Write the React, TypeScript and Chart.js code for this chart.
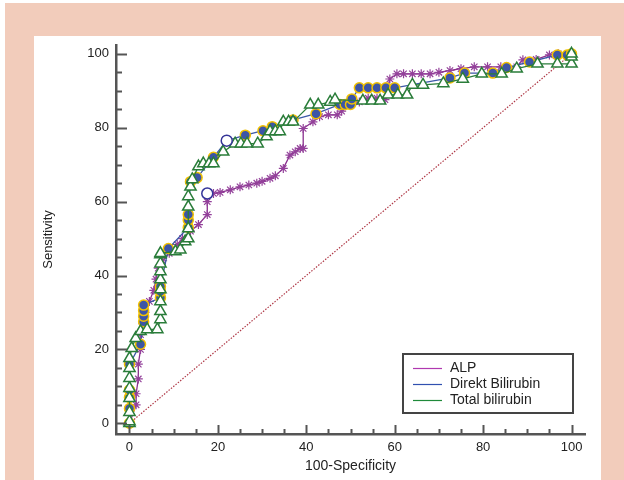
import React, { useEffect, useRef } from "react";
import { Chart, registerables } from "chart.js";

Chart.register(...registerables);

// ---- Data ----
const alpX = [0, 1.5, 1.5, 2, 2, 2.5, 2.5, 3, 3.5, 4.5, 5.5, 6, 6.5, 7.5, 9, 10.8, 12, 13.8, 15.6, 17.6, 17.6, 17.6, 19, 20.5, 22.8, 25, 27, 28.8, 30, 31.8, 33, 34.8, 36.3, 37.5, 38.6, 39.3, 39.3, 41.5, 43, 45, 47, 48, 50, 52, 54, 56, 57.8, 58.9, 60.5, 62, 64, 66, 68, 70, 72.5, 75, 78, 81, 84, 87.6, 89, 92, 95, 97, 100];
const alpY = [0, 5, 8, 12, 16, 20, 24, 27, 30, 33, 36, 39, 42, 44, 46, 48.4, 50, 52, 53.8, 56.5, 60, 62.2, 62.2, 62.5, 63.2, 64, 64.5, 65, 65.5, 66.3, 67, 69, 72.6, 73.5, 74.4, 74.4, 79.8, 81.6, 83, 83.5, 83.5, 84.5, 86, 87, 88, 88, 87.6, 93.2, 94.6, 94.6, 94.6, 94.6, 94.6, 95, 95.5, 96, 96.5, 96.5, 96.5, 96.5, 98.4, 98.5, 99.7, 100, 100];

const dbX = [0, 0, 0, 0, 0, 2.5, 3.2, 3.2, 3.2, 3.2, 7, 7, 7, 8.8, 13.3, 13.3, 13.3, 13.8, 15.3, 19, 22, 26.2, 30.2, 32.3, 37, 42.2, 47.6, 48.8, 50, 50.3, 52, 54, 56, 58, 60, 72.5, 75.8, 82.2, 85.3, 90.5, 96.8, 99, 100];
const dbY = [0, 4, 7, 9, 16, 21.4, 27.5, 29, 30.5, 32, 34, 35.7, 37, 47.3, 53, 55, 56.5, 65.4, 66.5, 72, 76.5, 78, 79.2, 80.3, 82.1, 83.8, 86.3, 86.3, 86.3, 87.8, 90.8, 90.8, 90.8, 90.8, 90.8, 93.5, 94.8, 94.8, 96.3, 97.8, 99.7, 99.7, 100];

const tbX = [0, 0, 0, 0, 0, 0, 0, 0, 0.5, 1.4, 2.5, 4, 6.3, 7, 7, 7, 7, 7, 7, 7, 7, 7, 10.4, 11.5, 12.6, 13.3, 13.3, 13.3, 13.3, 13.8, 14.2, 15.6, 16.7, 18, 19, 21.2, 23.9, 25.2, 26.6, 29, 31, 31.8, 33, 34, 34.8, 36, 37, 40.9, 42.7, 45.4, 46.5, 52.8, 54.8, 56.7, 58.5, 60.7, 62.8, 64, 66.4, 71, 75.4, 79.7, 84.2, 87.6, 92.3, 96.8, 100, 100, 100];
const tbY = [0, 0.5, 3, 6.8, 9.5, 12.2, 14.9, 17.6, 20.3, 23, 24.9, 25.4, 25.4, 28.1, 30.3, 33, 36.2, 38.9, 41.1, 43.2, 45.7, 46, 46.5, 47, 49.2, 50, 52.7, 58.6, 61.4, 64, 66, 69.5, 70.3, 70.3, 70.3, 73.5, 75.7, 75.7, 75.7, 75.7, 77.6, 79, 79, 79, 81.6, 81.6, 81.6, 86.2, 86.2, 87, 87.6, 87.3, 87.3, 87.3, 88.9, 88.9, 88.9, 91.6, 91.6, 92, 93.2, 94.6, 94.6, 96, 97.3, 97.3, 97.3, 99.2, 100];

// optimal criterion points (hollow circles)
const critX = [17.6, 22];
const critY = [62.2, 76.5];

const diagX = [0, 100];
const diagY = [0, 100];

const tickValues = [0, 5, 10, 15, 20, 25, 30, 35, 40, 45, 50, 55, 60, 65, 70, 75, 80, 85, 90, 95, 100];
const labeledTicks = [0, 20, 40, 60, 80, 100];

const legendNames = ["ALP", "Direkt Bilirubin", "Total bilirubin"];
const legendColors = ["#b038b0", "#3050b0", "#1f8a3a"];

const FONT = "'Liberation Sans', Arial, Helvetica, sans-serif";

const zip = (xs: number[], ys: number[]) => xs.map((x, i) => ({ x, y: ys[i] }));

const decorPlugin = {
  id: "decor",
  afterDraw(chart: any) {
    const { ctx, chartArea, scales } = chart;
    ctx.save();
    ctx.strokeStyle = "#555";
    ctx.lineWidth = 2;
    for (const t of scales.x.ticks) {
      const px = Math.round(scales.x.getPixelForValue(t.value)) + 0.5;
      const major = labeledTicks.includes(t.value);
      ctx.beginPath();
      ctx.moveTo(px, chartArea.bottom);
      ctx.lineTo(px, chartArea.bottom - (major ? 9 : 5));
      ctx.stroke();
    }
    for (const t of scales.y.ticks) {
      const py = Math.round(scales.y.getPixelForValue(t.value)) + 0.5;
      const major = labeledTicks.includes(t.value);
      ctx.beginPath();
      ctx.moveTo(chartArea.left, py);
      ctx.lineTo(chartArea.left + (major ? 11 : 6), py);
      ctx.stroke();
    }
    // legend box
    const bx = 403, by = 354, bw = 170, bh = 59;
    ctx.fillStyle = "#fff";
    ctx.fillRect(bx, by, bw, bh);
    ctx.strokeStyle = "#444";
    ctx.lineWidth = 2;
    ctx.strokeRect(bx, by, bw, bh);
    ctx.font = `14px ${FONT}`;
    ctx.textBaseline = "middle";
    ctx.textAlign = "left";
    legendNames.forEach((name, i) => {
      const y = by + 14 + i * 16;
      ctx.strokeStyle = legendColors[i];
      ctx.lineWidth = 1.2;
      ctx.beginPath();
      ctx.moveTo(413, y + 0.5);
      ctx.lineTo(442, y + 0.5);
      ctx.stroke();
      ctx.fillStyle = "#222";
      ctx.fillText(name, 450, y);
    });
    ctx.restore();
  },
};

export default function App() {
  const canvasRef = useRef<HTMLCanvasElement | null>(null);

  useEffect(() => {
    const canvas = canvasRef.current;
    if (!canvas) return;
    const chart = new Chart(canvas, {
      type: "scatter",
      data: {
        datasets: [
          {
            label: "diag",
            data: zip(diagX, diagY),
            showLine: true,
            borderColor: "#b03a48",
            borderWidth: 1.2,
            borderDash: [1.5, 1.5],
            pointRadius: 0,
            order: 5,
          },
          {
            label: "ALP",
            data: zip(alpX, alpY),
            showLine: true,
            borderColor: "#8a2f8e",
            borderWidth: 1.3,
            pointStyle: "star",
            pointRadius: 4.5,
            pointBorderColor: "#93409a",
            pointBorderWidth: 1.2,
            order: 4,
          },
          {
            label: "Direkt Bilirubin",
            data: zip(dbX, dbY),
            showLine: true,
            borderColor: "#3c58a8",
            borderWidth: 1.3,
            pointStyle: "circle",
            pointRadius: 5,
            pointBackgroundColor: "#3d55a6",
            pointBorderColor: "#f2c200",
            pointBorderWidth: 1.5,
            order: 3,
          },
          {
            label: "Total bilirubin",
            data: zip(tbX, tbY),
            showLine: true,
            borderColor: "#2a7d3a",
            borderWidth: 1.3,
            pointStyle: "triangle",
            pointRadius: 6.5,
            pointBackgroundColor: "#ffffff",
            pointBorderColor: "#2a7d3a",
            pointBorderWidth: 1.5,
            order: 2,
          },
          {
            label: "crit",
            data: zip(critX, critY),
            showLine: false,
            pointStyle: "circle",
            pointRadius: 5.5,
            pointBackgroundColor: "#ffffff",
            pointBorderColor: "#34349a",
            pointBorderWidth: 1.5,
            order: 1,
          },
        ],
      },
      options: {
        responsive: false,
        animation: false,
        events: [],
        layout: { padding: { left: 0, top: 45, right: 39, bottom: 0 } },
        plugins: { legend: { display: false }, tooltip: { enabled: false } },
        scales: {
          x: {
            type: "linear",
            min: -3.05,
            max: 103.05,
            grid: { display: false, drawTicks: false, tickLength: 0 },
            border: { display: true, color: "#555", width: 2.5 },
            afterBuildTicks: (s: any) => {
              s.ticks = tickValues.map((v) => ({ value: v }));
            },
            afterFit: (s: any) => {
              s.height = 46;
            },
            ticks: {
              autoSkip: false,
              maxRotation: 0,
              padding: 6,
              color: "#222",
              font: { family: FONT, size: 13 },
              callback: (v: any) => (labeledTicks.includes(Number(v)) ? String(v) : ""),
            },
            title: {
              display: true,
              text: "100-Specificity",
              color: "#222",
              font: { family: FONT, size: 14 },
              padding: { top: 0, bottom: 5 },
            },
          },
          y: {
            type: "linear",
            min: -2.9,
            max: 102.4,
            grid: { display: false, drawTicks: false, tickLength: 0 },
            border: { display: true, color: "#555", width: 2.5 },
            afterBuildTicks: (s: any) => {
              s.ticks = tickValues.map((v) => ({ value: v }));
            },
            afterFit: (s: any) => {
              s.width = 116;
            },
            ticks: {
              autoSkip: false,
              padding: 7,
              color: "#222",
              font: { family: FONT, size: 13 },
              callback: (v: any) => (labeledTicks.includes(Number(v)) ? String(v) : ""),
            },
            title: {
              display: true,
              text: "Sensitivity",
              color: "#222",
              font: { family: FONT, size: 13 },
              padding: { top: 41, bottom: 0 },
            },
          },
        },
      },
      plugins: [decorPlugin],
    });
    return () => chart.destroy();
  }, []);

  return (
    <div style={{ position: "absolute", left: 0, top: 0, width: 624, height: 480, background: "#fff", overflow: "hidden" }}>
      <div style={{ position: "absolute", left: 5, top: 3, right: 0, bottom: 0, background: "#f2ccbb" }} />
      <div style={{ position: "absolute", left: 34, top: 36, width: 567, height: 444, background: "#fff" }} />
      <canvas ref={canvasRef} width={624} height={480} style={{ position: "absolute", left: 0, top: 0, width: 624, height: 480 }} />
    </div>
  );
}
